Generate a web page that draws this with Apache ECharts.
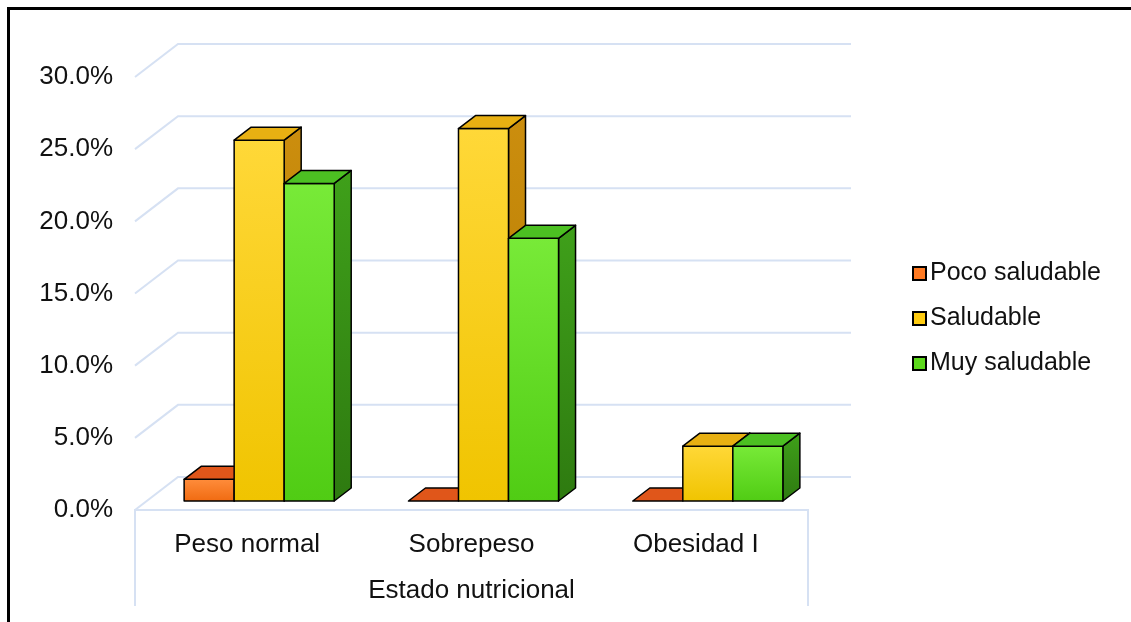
<!DOCTYPE html>
<html>
<head>
<meta charset="utf-8">
<script src="https://cdn.jsdelivr.net/npm/echarts@6/dist/echarts.min.js"></script>
<style>
  html, body { margin: 0; padding: 0; background: #fff; }
  #chart { width: 1131px; height: 622px; }
</style>
</head>
<body>
<div id="chart"></div>
<script>
// datos
const categories = ['Peso normal', 'Sobrepeso', 'Obesidad I']
const pocoSaludable = [1.5, 0, 0]
const saludable = [25.0, 25.8, 3.8]
const muySaludable = [22.0, 18.2, 3.8]
const yTicks = [0, 5, 10, 15, 20, 25, 30]

const FONT = 'Liberation Sans, Arial, sans-serif'
// desplazamientos de la perspectiva (px)
const WALL = [43, -33]
const PLANE = [12, -9]
const DEPTH = [17, -13]

const palette = [
  { front: ['#ff8d3c', '#f06a10'], top: '#e0561a', side: ['#c8500e', '#a8400a'], legend: '#ff7a22' },
  { front: ['#ffd838', '#f0c400'], top: '#e8b012', side: ['#cc8e0e', '#b07800'], legend: '#ffcc11' },
  { front: ['#78ea38', '#50cc14'], top: '#4cc022', side: ['#3fa01a', '#2e7a10'], legend: '#5cd81c' }
]

const grad = (c) => new echarts.graphic.LinearGradient(0, 0, 0, 1, [
  { offset: 0, color: c[0] },
  { offset: 1, color: c[1] }
])

const barSeries = (name, values, sIdx) => ({
  name: name,
  type: 'custom',
  z: 3,
  itemStyle: { color: palette[sIdx].legend, borderColor: '#000', borderWidth: 1.5 },
  data: values.map((v, i) => [i, v]),
  renderItem: (params, api) => {
    const cat = api.value(0)
    const val = api.value(1)
    const base = api.coord([cat, 0])
    const top = api.coord([cat, val])
    const bw = api.size([1, 0])[0] * 0.223
    const x0 = base[0] - 1.5 * bw + sIdx * bw + PLANE[0]
    const x1 = x0 + bw
    const yb = base[1] + PLANE[1]
    const yt = top[1] + PLANE[1]
    const col = palette[sIdx]
    const stroke = { stroke: '#000', lineWidth: 1.5, lineJoin: 'round' }
    const children = []
    if (yb - yt > 0.5) {
      children.push({
        type: 'polygon',
        shape: { points: [[x1, yt], [x1 + DEPTH[0], yt + DEPTH[1]], [x1 + DEPTH[0], yb + DEPTH[1]], [x1, yb]] },
        style: Object.assign({ fill: grad(col.side) }, stroke)
      })
      children.push({
        type: 'rect',
        shape: { x: x0, y: yt, width: bw, height: yb - yt },
        style: Object.assign({ fill: grad(col.front) }, stroke)
      })
    }
    children.push({
      type: 'polygon',
      shape: { points: [[x0, yt], [x1, yt], [x1 + DEPTH[0], yt + DEPTH[1]], [x0 + DEPTH[0], yt + DEPTH[1]]] },
      style: Object.assign({ fill: col.top }, stroke)
    })
    return { type: 'group', children: children }
  }
})

const chartDom = document.getElementById('chart')
const myChart = echarts.init(chartDom)

const option = {
  animation: false,
  backgroundColor: '#fff',
  textStyle: { fontFamily: FONT },
  grid: { left: 135, right: 323, top: 77, bottom: 112 },
  legend: {
    data: ['Poco saludable', 'Saludable', 'Muy saludable'],
    orient: 'vertical',
    left: 907,
    top: 256,
    icon: 'rect',
    itemWidth: 13,
    itemHeight: 13,
    itemGap: 20,
    textStyle: { fontSize: 25, color: '#111', fontFamily: FONT, padding: [0, 0, 0, -1] }
  },
  xAxis: {
    type: 'category',
    data: categories,
    axisLine: { show: false },
    axisTick: { show: false },
    splitLine: { show: false },
    axisLabel: { fontSize: 26, color: '#111', margin: 22, fontFamily: FONT },
    name: 'Estado nutricional',
    nameLocation: 'middle',
    nameGap: 68,
    nameTextStyle: { fontSize: 26, color: '#111', fontFamily: FONT }
  },
  yAxis: {
    type: 'value',
    min: 0,
    max: 30,
    interval: 5,
    axisLine: { show: false },
    axisTick: { show: false },
    splitLine: { show: false },
    axisLabel: {
      fontSize: 26,
      color: '#111',
      margin: 22,
      fontFamily: FONT,
      formatter: (v) => v.toFixed(1) + '%'
    }
  },
  graphic: [
    {
      type: 'polyline',
      shape: { points: [[8.5, 700], [8.5, 8.5], [1200, 8.5]] },
      style: { stroke: '#000', lineWidth: 3, fill: null },
      z: 10
    }
  ],
  series: [
    {
      name: 'grid3d',
      type: 'custom',
      z: 1,
      silent: true,
      data: yTicks.map((v) => [0, v]),
      renderItem: (params, api) => {
        const cs = params.coordSys
        const y = api.coord([0, api.value(1)])[1]
        const line = { stroke: '#d6e1f3', lineWidth: 2, fill: null }
        const children = [{
          type: 'polyline',
          shape: { points: [[cs.x, y], [cs.x + WALL[0], y + WALL[1]], [cs.x + cs.width + WALL[0], y + WALL[1]]] },
          style: line
        }]
        if (api.value(1) === 0) {
          children.push({
            type: 'polyline',
            shape: { points: [[cs.x, y + 96], [cs.x, y], [cs.x + cs.width, y], [cs.x + cs.width, y + 96]] },
            style: line
          })
        }
        return { type: 'group', children: children }
      }
    },
    barSeries('Poco saludable', pocoSaludable, 0),
    barSeries('Saludable', saludable, 1),
    barSeries('Muy saludable', muySaludable, 2)
  ]
}

option && myChart.setOption(option)
</script>
</body>
</html>
